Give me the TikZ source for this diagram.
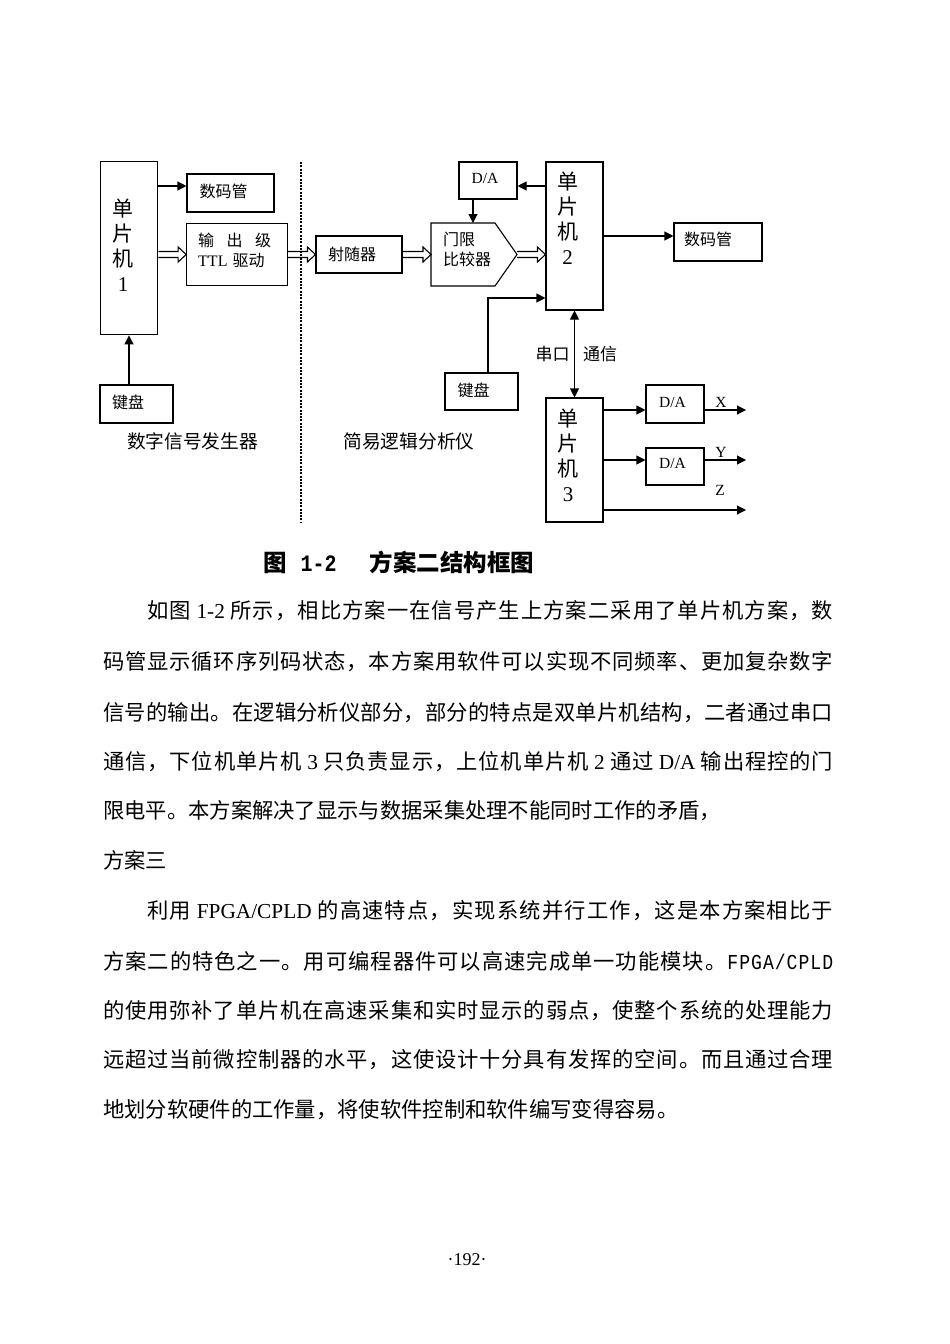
\documentclass[tikz,border=0pt]{standalone}
\usepackage{fontspec}
\setmainfont{Noto Sans CJK SC}
\newfontfamily\lat{Liberation Serif}
\newfontfamily\mono[FakeStretch=0.85]{Liberation Mono}
\usetikzlibrary{arrows.meta,calc}
\newcommand\gl{\hskip0pt plus 3pt\relax}
\def\endspread{ENDSPREAD}
\def\LT{LATINMARK}
\def\spread#1{\spreadi#1\endspread}
\def\spreadi#1{\ifx#1\endspread\unskip\let\next\relax\else\ifx#1\LT\let\next\spreadL\else#1\gl\let\next\spreadi\fi\fi\next}
\def\spreadL#1{{\lat #1}\gl\spreadi}
\begin{document}
\begin{tikzpicture}[x=1pt,y=-1pt,
  box/.style={draw, line width=1.1pt, inner sep=0pt},
  lbl/.style={inner sep=0pt, font=\fontsize{16}{18}\selectfont},
  latlbl/.style={inner sep=0pt, font=\lat\fontsize{15.5}{18}\selectfont},
  stack/.style={inner sep=0pt, align=center, font=\fontsize{21}{25}\selectfont},
  arr/.style={line width=1.1pt, -{Triangle[length=9pt,width=9pt]}},
  darr/.style={line width=1.1pt, {Triangle[length=9pt,width=9pt]}-{Triangle[length=9pt,width=9pt]}},
  hollow/.style={line width=1.1pt, to path={let \p1=(\tikztostart), \p2=(\tikztotarget) in
     (\x1,\y1+3pt) -- (\x2-8pt,\y1+3pt) -- (\x2-8pt,\y1+7.5pt) -- (\x2,\y1) -- (\x2-8pt,\y1-7.5pt) -- (\x2-8pt,\y1-3pt) -- (\x1,\y1-3pt)}},
  divider/.style={line width=2.2pt, dash pattern=on 2pt off 1.3pt},
  body/.style={anchor=base west, inner sep=0pt, font=\fontsize{21.3}{21.3}\selectfont}
]
\fill[white] (0,0) rectangle (950,1344);
\useasboundingbox (0,0) rectangle (950,1344);

% helper coordinates for connector heights
\coordinate (h186) at (0,186);
\coordinate (h236) at (0,236);
\coordinate (h298) at (0,298);
\coordinate (h410) at (0,410);
\coordinate (h460) at (0,460);
\coordinate (h510) at (0,510);
\coordinate (v129) at (129,0);
\coordinate (v488) at (488,0);
\coordinate (v574) at (574.5,0);

% ---------- left part ----------
\node[box, minimum width=57pt, minimum height=173pt] (mcu1) at (129.2,248.4) {};
\node[stack] (mcu1t) at (123,245.5) {单\\片\\机\\{\lat 1}};

\node[box, minimum width=87pt, minimum height=38pt] (seg1) at (230.5,193) {};
\node[lbl] (seg1t) at (223.5,191.5) {数码管};

\node[box, minimum width=100.6pt, minimum height=62pt] (ttl) at (237,254.5) {};
\node[lbl, anchor=west] (ttl1) at (198,240) {输\hspace{12.5pt}出\hspace{12.5pt}级};
\node[lbl, anchor=west] (ttl2) at (198,261) {{\lat TTL}\hspace{5pt}驱动};

\node[box, minimum width=73pt, minimum height=38pt] (kb1) at (136.5,404) {};
\node[lbl] (kb1t) at (128,402.5) {键盘};

\draw[arr] (mcu1.east |- h186) -- (seg1.west |- h186);
\draw[hollow] (ttl.west -| mcu1.east) to (ttl.west);
\draw[arr] (kb1.north -| v129) -- (mcu1.south -| v129);

\node[inner sep=0pt, font=\fontsize{18.7}{20}\selectfont] (genlbl) at (192.5,441.5) {数字信号发生器};

% divider
\coordinate (divT) at (301,162);
\coordinate (divB) at (301,523);
\draw[divider] (divT) -- (divB);

% ---------- right part ----------
\node[box, minimum width=86pt, minimum height=37pt] (emit) at (359,254.5) {};
\node[lbl] (emitt) at (352,254) {射随器};
\draw[hollow] (ttl.east) to (emit.west);

% comparator (pentagon)
\coordinate (cmpNW) at (431,223);
\coordinate (cmpNE) at (495,223);
\coordinate (cmpTip) at (517,254.5);
\coordinate (cmpSE) at (495,286);
\coordinate (cmpSW) at (431,286);
\coordinate (cmpW) at (431,254.5);
\coordinate (cmpTop) at (473,223);
\draw[line width=1.1pt] (cmpNW) -- (cmpNE) -- (cmpTip) -- (cmpSE) -- (cmpSW) -- cycle;
\node[lbl, anchor=west] (cmp1) at (443,239.5) {门限};
\node[lbl, anchor=west] (cmp2) at (443,259.5) {比较器};
\draw[hollow] (emit.east) to (cmpW);

\node[box, minimum width=58pt, minimum height=37pt] (da1) at (488,180.5) {};
\node[latlbl] (da1t) at (485,178) {D/A};

\node[box, minimum width=57pt, minimum height=148pt] (mcu2) at (574.5,236) {};
\node[stack] (mcu2t) at (567.5,218.5) {单\\片\\机\\{\lat 2}};

\draw[hollow] (cmpTip) to (cmpTip -| mcu2.west);
\draw[arr] (mcu2.west |- h186) -- (da1.east |- h186);
\draw[arr] (da1.south -| cmpTop) -- (cmpTop);

\node[box, minimum width=88pt, minimum height=38pt] (seg2) at (718,242) {};
\node[lbl] (seg2t) at (708,239.5) {数码管};
\draw[arr] (mcu2.east |- h236) -- (seg2.west |- h236);

\node[box, minimum width=73pt, minimum height=37pt] (kb2) at (481.5,391.5) {};
\node[lbl] (kb2t) at (473.5,390) {键盘};
\draw[arr] (kb2.north -| v488) |- (mcu2.west |- h298);

\node[inner sep=0pt, font=\fontsize{18.7}{20}\selectfont] (analbl) at (409,441.5) {简易逻辑分析仪};

\node[box, minimum width=57pt, minimum height=124pt] (mcu3) at (574.5,460) {};
\node[stack] (mcu3t) at (568,455.5) {单\\片\\机\\{\lat 3}};

\draw[darr] (mcu2.south -| v574) -- (mcu3.north -| v574);
\node[inner sep=0pt, font=\fontsize{17}{18}\selectfont] (ser1) at (552.5,354.5) {串口};
\node[inner sep=0pt, font=\fontsize{17}{18}\selectfont] (ser2) at (600,354.5) {通信};

\node[box, minimum width=58pt, minimum height=38pt] (da2) at (675,404) {};
\node[latlbl] (da2t) at (672.5,402) {D/A};
\node[box, minimum width=58pt, minimum height=37pt] (da3) at (675,466.5) {};
\node[latlbl] (da3t) at (672.5,463) {D/A};

\coordinate (xo) at (746,410);
\coordinate (yo) at (746,460);
\coordinate (zo) at (746,510);
\draw[arr] (mcu3.east |- h410) -- (da2.west |- h410);
\draw[arr] (da2.east |- h410) -- (xo);
\draw[arr] (mcu3.east |- h460) -- (da3.west |- h460);
\draw[arr] (da3.east |- h460) -- (yo);
\draw[arr] (mcu3.east |- h510) -- (zo);
\node[latlbl] (xl) at (721,402) {X};
\node[latlbl] (yl) at (721,452) {Y};
\node[latlbl] (zl) at (720,490) {Z};

% ---------- caption ----------
\node[anchor=base west, inner sep=0pt, font=\fontsize{23.5}{23.5}\selectfont\bfseries] (cap) at (263,571)
  {图\hspace{14pt}{\mono 1-2}\hspace{33pt}方案二结构框图};

% ---------- body text ----------
\node[body] (p1) at (147,618) {\hbox to 686pt{\spread{如图\,\LT{1-2}\,所示，相比方案一在信号产生上方案二采用了单片机方案，数}}};
\node[body] (p2) at (103,669) {\hbox to 730pt{\spread{码管显示循环序列码状态，本方案用软件可以实现不同频率、更加复杂数字}}};
\node[body] (p3) at (103,720) {\hbox to 730pt{\spread{信号的输出。在逻辑分析仪部分，部分的特点是双单片机结构，二者通过串口}}};
\node[body] (p4) at (103,769) {\hbox to 730pt{\spread{通信，下位机单片机\,\LT{3}\,只负责显示，上位机单片机\,\LT{2}\,通过\,\LT{D/A}\,输出程控的门}}};
\node[body] (p5) at (103,818) {限电平。本方案解决了显示与数据采集处理不能同时工作的矛盾，};
\node[body] (p6) at (103,868) {方案三};
\node[body] (p7) at (147,918) {\hbox to 686pt{\spread{利用\,\LT{FPGA/CPLD}\,的高速特点，实现系统并行工作，这是本方案相比于}}};
\node[body] (p8) at (103,969) {\hbox to 730pt{\spread{方案二的特色之一。用可编程器件可以高速完成单一功能模块。}\gl{\mono F\gl P\gl G\gl A\gl /\gl C\gl P\gl L\gl D}}};
\node[body] (p9) at (103,1018) {\hbox to 730pt{\spread{的使用弥补了单片机在高速采集和实时显示的弱点，使整个系统的处理能力}}};
\node[body] (p10) at (103,1067) {\hbox to 730pt{\spread{远超过当前微控制器的水平，这使设计十分具有发挥的空间。而且通过合理}}};
\node[body] (p11) at (103,1117) {地划分软硬件的工作量，将使软件控制和软件编写变得容易。};

\node[inner sep=0pt, font=\lat\fontsize{18}{18}\selectfont] (pg) at (467,1260) {·192·};
\end{tikzpicture}
\end{document}
